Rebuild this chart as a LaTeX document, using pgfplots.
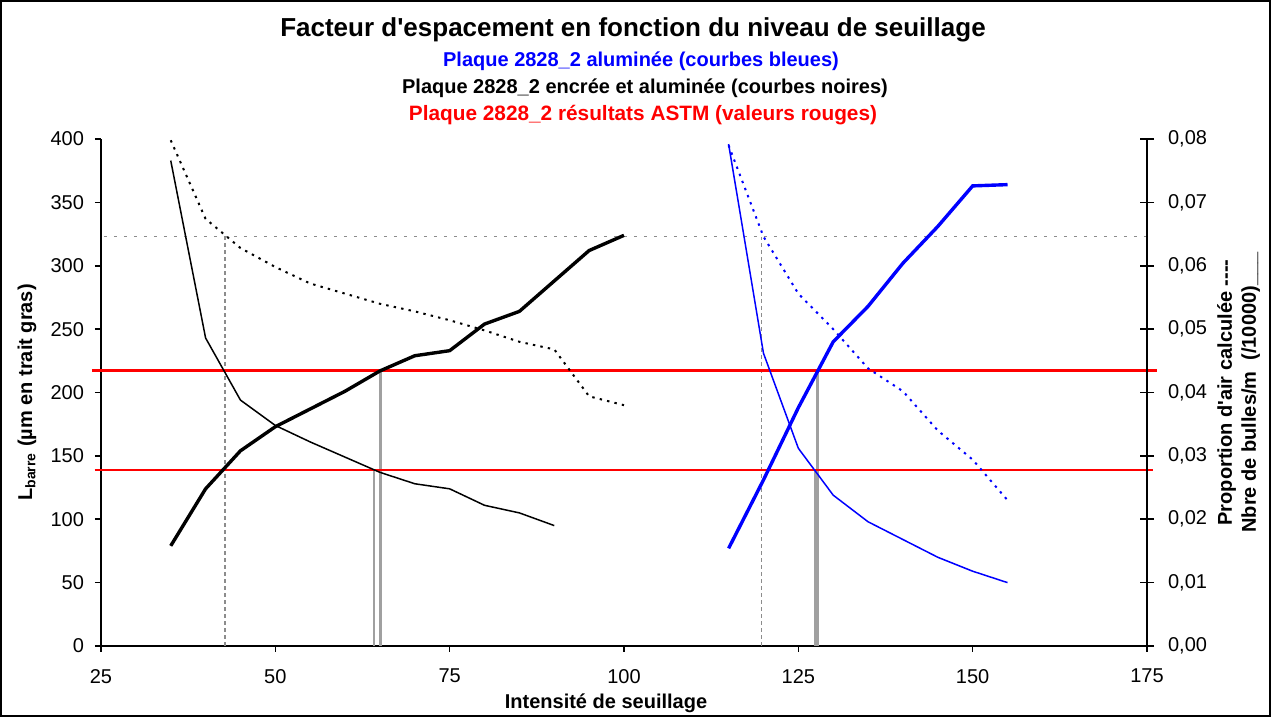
\documentclass[border=0pt]{standalone}
\usepackage{fontspec}
\setmainfont{Liberation Sans}
\usepackage{pgfplots}
\pgfplotsset{compat=1.18}
\definecolor{xlblue}{RGB}{0,0,255}
\definecolor{xlred}{RGB}{255,0,0}
\definecolor{xlgray}{RGB}{160,160,160}
\definecolor{xldot}{RGB}{140,140,140}

\begin{document}
\begin{tikzpicture}
\useasboundingbox (-50.5pt,-35.5pt) rectangle (585pt,323pt);
\draw[line width=1pt] (-50pt,-35pt) rectangle (584.5pt,322.5pt);

\pgfplotsset{
  every axis/.append style={
    scale only axis, width=523pt, height=253.5pt,
    xmin=25, xmax=175, clip=false,
    tick label style={font=\fontsize{10}{12}\selectfont},
    /pgf/number format/assume math mode=true,
    axis line style={-, line width=0.8pt},
    major tick style={line width=0.8pt, black},
  },
}

% left axis: L barre (bold curves) and ASTM lines
\begin{axis}[
  axis x line*=bottom, axis y line*=left,
  ymin=0, ymax=400, ytick={0,50,...,400},
  xtick={25,50,...,175},
  tick align=outside, major tick length=3pt,
  xticklabel style={yshift=-5pt},
  yticklabel style={xshift=-2pt},
  xlabel={\textbf{Intensité de seuillage}},
  xlabel style={at={(axis description cs:0.4828,-0.1124)}, anchor=center, font=\fontsize{10}{12}\selectfont},
  ylabel={\textbf{L\textsubscript{barre} (µm en trait gras)}},
  ylabel style={at={(axis description cs:-0.0707,0.5)}, anchor=center, font=\fontsize{10}{12}\selectfont},
]
% reference lines
\addplot[xldot, line width=0.6pt, dash pattern=on 1.5pt off 3.5pt] coordinates {(25.4,323) (175,323)};
\addplot[xldot, line width=0.7pt, dash pattern=on 2pt off 1.5pt] coordinates {(42.8,0) (42.8,323)};
\addplot[xldot, line width=0.7pt, dash pattern=on 2pt off 1.5pt] coordinates {(119.7,0) (119.7,323)};
\addplot[xlgray, line width=1pt] coordinates {(64.1,0) (64.1,139)};
\addplot[xlgray, line width=1.5pt] coordinates {(65.1,0) (65.1,217.5)};
\addplot[xlgray, line width=1pt] coordinates {(127.4,0) (127.4,139)};
\addplot[xlgray, line width=1.5pt] coordinates {(127.7,0) (127.7,217.5)};
\addplot[xlred, line width=1.7pt] coordinates {(23.7,217.5) (176.4,217.5)};
\addplot[xlred, line width=0.8pt] coordinates {(24.1,139) (175.9,139)};
% L barre, encree et aluminee
\addplot[black, line width=1.7pt] coordinates {
  (35,79) (40,124) (45,154) (50,173) (55,187) (60,201) (65,217)
  (70,229) (75,233) (80,254) (85,264) (90,288) (95,312) (100,324)};
% L barre, aluminee
\addplot[xlblue, line width=1.7pt] coordinates {
  (115,77) (120,131) (125,188) (130,240) (135,268) (140,302)
  (145,331) (150,363) (155,364)};
\end{axis}

% right axis: proportion d'air (dotted) and bulles/m (thin)
\begin{axis}[
  axis x line=none, axis y line*=right,
  ymin=0, ymax=0.08, ytick={0,0.01,0.02,0.03,0.04,0.05,0.06,0.07,0.08},
  scaled y ticks=false,
  tick align=center, major tick length=7pt,
  y tick label style={xshift=3.5pt, /pgf/number format/fixed, /pgf/number format/fixed zerofill,
    /pgf/number format/precision=2, /pgf/number format/use comma},
  ylabel={\textbf{Proportion d\textquotesingle air calculée -{}-{}-{}-}\\\textbf{Nbre de bulles/m\ \ (/10000)\_\_\_}},
  ylabel style={at={(axis description cs:1.0875,0.5)}, anchor=center, align=center, font=\fontsize{10}{12}\selectfont},
]
\addplot[black, line width=0.75pt] coordinates {
  (35,0.0766) (40,0.0486) (45,0.0388) (50,0.0348) (55,0.0322) (60,0.0298)
  (65,0.0274) (70,0.0256) (75,0.0248) (80,0.0222) (85,0.021) (90,0.019)};
\addplot[black, line width=1pt, dash pattern=on 1.2pt off 2.6pt] coordinates {
  (35,0.0798) (40,0.0674) (45,0.0628) (50,0.0598) (55,0.0572) (60,0.0556)
  (65,0.054) (70,0.0528) (75,0.0514) (80,0.0498) (85,0.048) (90,0.0468)
  (95,0.0394) (100,0.038)};
\addplot[xlblue, line width=0.75pt] coordinates {
  (115,0.0792) (120,0.0462) (125,0.0312) (130,0.0238) (135,0.0196)
  (140,0.0168) (145,0.014) (150,0.0118) (155,0.01)};
\addplot[xlblue, line width=1pt, dash pattern=on 1.2pt off 2.6pt] coordinates {
  (115,0.079) (120,0.0646) (125,0.0556) (130,0.05) (135,0.0438)
  (140,0.0402) (145,0.034) (150,0.0294) (155,0.023)};
\end{axis}

\node[font=\fontsize{13}{15}\selectfont\bfseries] at (266pt,308pt)
  {Facteur d\textquotesingle espacement en fonction du niveau de seuillage};
\node[font=\fontsize{10}{12}\selectfont\bfseries, text=xlblue] at (270pt,292.5pt)
  {Plaque 2828\_2 aluminée (courbes bleues)};
\node[font=\fontsize{10}{12}\selectfont\bfseries] at (272pt,279pt)
  {Plaque 2828\_2 encrée et aluminée (courbes noires)};
\node[font=\fontsize{10.4}{12}\selectfont\bfseries, text=xlred] at (271pt,265.5pt)
  {Plaque 2828\_2 résultats ASTM (valeurs rouges)};
\end{tikzpicture}
\end{document}
